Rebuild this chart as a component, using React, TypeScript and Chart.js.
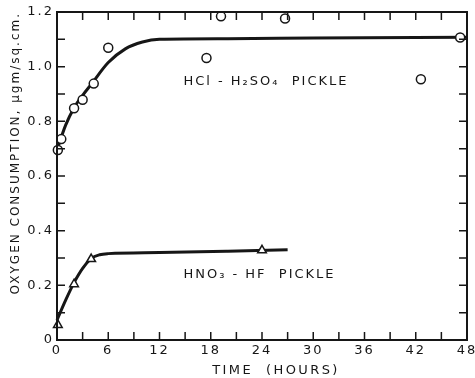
import React, { useEffect, useRef } from 'react';
import { Chart, registerables } from 'chart.js';

Chart.register(...registerables);

// HCl - H2SO4 pickle: measured points (hours, µgm/sq.cm.)
const hclTime = [0.1, 0.5, 2, 3, 4.3, 6, 17.5, 19.2, 26.7, 42.6, 47.2];
const hclO2 = [0.695, 0.735, 0.848, 0.879, 0.938, 1.069, 1.032, 1.184, 1.176, 0.954, 1.107];
// HCl - H2SO4 fitted curve
const hclFitTime = [0, 1, 2, 3, 4, 6, 8, 10, 12, 20, 30, 48];
const hclFitO2 = [0.695, 0.785, 0.85, 0.895, 0.935, 1.015, 1.065, 1.09, 1.1, 1.102, 1.105, 1.108];

// HNO3 - HF pickle: measured points
const hno3Time = [0.1, 2, 4, 24];
const hno3O2 = [0.055, 0.204, 0.296, 0.328];
// HNO3 - HF fitted curve
const hno3FitTime = [0, 1, 2, 3, 4, 5, 6, 12, 20, 27];
const hno3FitO2 = [0.073, 0.145, 0.21, 0.262, 0.298, 0.312, 0.316, 0.32, 0.325, 0.33];

// Axis ticks
const xTickValues = [0, 6, 12, 18, 24, 30, 36, 42, 48];
const xTickLabels = ['0', '6', '12', '18', '24', '30', '36', '42', '48'];
const xMinorValues = [3, 9, 15, 21, 27, 33, 39, 45];
const yTickValues = [0, 0.2, 0.4, 0.6, 0.8, 1.0, 1.2];
const yTickLabels = ['0', '0.2', '0.4', '0.6', '0.8', '1.0', '1.2'];
const yMinorValues = [0.1, 0.3, 0.5, 0.7, 0.9, 1.1];

const xTitle = 'TIME  (HOURS)';
const yTitle = 'OXYGEN CONSUMPTION, \u03BCgm/sq.cm.';
const hclLabel = 'HCl - H\u2082SO\u2084  PICKLE';
const hno3Label = 'HNO\u2083 - HF  PICKLE';

const INK = '#161616';
const FONT = '"DejaVu Sans", sans-serif';

const toPts = (xs: number[], ys: number[]) => xs.map((x, i) => ({ x, y: ys[i] }));

const framePlugin = {
  id: 'frameTicks',
  beforeDraw(chart: any) {
    (chart.ctx as any).letterSpacing = '2px';
  },
  afterDraw(chart: any) {
    const ctx = chart.ctx;
    const { left, right, top, bottom } = chart.chartArea;
    const xs = chart.scales.x;
    const ys = chart.scales.y;
    ctx.save();
    ctx.strokeStyle = INK;
    // frame
    ctx.lineWidth = 2;
    ctx.strokeRect(left, top, right - left, bottom - top);
    // inward ticks
    ctx.lineWidth = 1.5;
    const tl = 8;
    ctx.beginPath();
    [...xTickValues, ...xMinorValues].forEach((v) => {
      const px = xs.getPixelForValue(v);
      ctx.moveTo(px, bottom);
      ctx.lineTo(px, bottom - tl);
      ctx.moveTo(px, top);
      ctx.lineTo(px, top + tl);
    });
    [...yTickValues, ...yMinorValues].forEach((v) => {
      const py = ys.getPixelForValue(v);
      ctx.moveTo(left, py);
      ctx.lineTo(left + tl, py);
      ctx.moveTo(right, py);
      ctx.lineTo(right - tl, py);
    });
    ctx.stroke();

    // annotations
    ctx.fillStyle = INK;
    ctx.font = `13px ${FONT}`;
    (ctx as any).letterSpacing = '2px';
    ctx.textAlign = 'left';
    ctx.textBaseline = 'middle';
    ctx.fillText(hclLabel, xs.getPixelForValue(14.8), ys.getPixelForValue(0.945));
    ctx.fillText(hno3Label, xs.getPixelForValue(14.8), ys.getPixelForValue(0.238));

    // x axis title
    (ctx as any).letterSpacing = '2.4px';
    ctx.textAlign = 'center';
    ctx.fillText(xTitle, (left + right) / 2 + 14, bottom + 31);
    ctx.restore();
  },
};

export default function App() {
  const ref = useRef<HTMLCanvasElement>(null);

  useEffect(() => {
    if (!ref.current) return;
    Chart.defaults.font.family = FONT;
    Chart.defaults.color = INK;

    const chart = new Chart(ref.current, {
      type: 'scatter',
      data: {
        datasets: [
          {
            label: 'HCl - H2SO4 pickle',
            data: toPts(hclTime, hclO2),
            showLine: false,
            pointStyle: 'circle',
            pointRadius: 4.5,
            pointBorderWidth: 1.5,
            pointBackgroundColor: '#ffffff',
            pointBorderColor: INK,
            clip: false,
          } as any,
          {
            label: 'HNO3 - HF pickle',
            data: toPts(hno3Time, hno3O2),
            showLine: false,
            pointStyle: 'triangle',
            pointRadius: 5,
            pointBorderWidth: 1.5,
            pointBackgroundColor: '#ffffff',
            pointBorderColor: INK,
            clip: false,
          } as any,
          {
            label: 'HCl fit',
            data: toPts(hclFitTime, hclFitO2),
            showLine: true,
            pointRadius: 0,
            borderColor: INK,
            borderWidth: 3,
            cubicInterpolationMode: 'monotone',
            fill: false,
            clip: false,
          } as any,
          {
            label: 'HNO3 fit',
            data: toPts(hno3FitTime, hno3FitO2),
            showLine: true,
            pointRadius: 0,
            borderColor: INK,
            borderWidth: 3,
            cubicInterpolationMode: 'monotone',
            fill: false,
            clip: false,
          } as any,
        ],
      },
      options: {
        responsive: false,
        animation: false,
        events: [],
        layout: { padding: { top: 12, right: 8, left: 0, bottom: 0 } },
        plugins: {
          legend: { display: false },
          tooltip: { enabled: false },
          title: { display: false },
        },
        scales: {
          x: {
            type: 'linear',
            min: 0,
            max: 48,
            grid: { display: false, drawTicks: false },
            border: { display: false },
            afterBuildTicks: (s: any) => {
              s.ticks = xTickValues.map((v) => ({ value: v }));
            },
            afterFit: (s: any) => {
              s.height = 38;
              s.paddingLeft = 0;
              s.paddingRight = 0;
            },
            ticks: {
              autoSkip: false,
              maxRotation: 0,
              padding: 3,
              font: { size: 13 },
              color: INK,
              callback: (v: any) => {
                const i = xTickValues.indexOf(Number(v));
                return i >= 0 ? xTickLabels[i] : '';
              },
            },
          },
          y: {
            type: 'linear',
            min: 0,
            max: 1.2,
            grid: { display: false, drawTicks: false },
            border: { display: false },
            afterBuildTicks: (s: any) => {
              s.ticks = yTickValues.map((v) => ({ value: v }));
            },
            afterFit: (s: any) => {
              s.width = 57;
              s.paddingTop = 0;
              s.paddingBottom = 0;
            },
            title: {
              display: true,
              text: yTitle,
              align: 'end',
              font: { size: 12 },
              color: INK,
              padding: { top: 9, bottom: 0 },
            },
            ticks: {
              autoSkip: false,
              padding: 3,
              font: { size: 13 },
              color: INK,
              callback: (v: any) => {
                const i = yTickValues.findIndex((t) => Math.abs(t - Number(v)) < 1e-9);
                return i >= 0 ? yTickLabels[i] : '';
              },
            },
          },
        },
      } as any,
      plugins: [framePlugin],
    });
    return () => chart.destroy();
  }, []);

  return (
    <div style={{ position: 'fixed', left: 0, top: 0, width: 475, height: 378, background: '#fff' }}>
      <canvas ref={ref} width={475} height={378} style={{ display: 'block' }} />
    </div>
  );
}
